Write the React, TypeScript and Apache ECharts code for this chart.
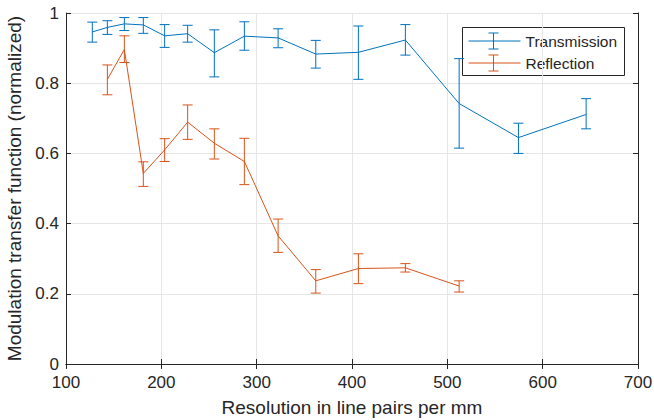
import React, { useEffect, useRef } from "react";
import * as echarts from "echarts";

const transX = [127.6, 143.4, 161.2, 181.1, 203.5, 227.6, 255.6, 287.1, 322.5, 362, 406.7, 456, 512.4, 574.6, 645.6];
const transY = [0.946, 0.959, 0.969, 0.966, 0.935, 0.941, 0.887, 0.934, 0.929, 0.883, 0.888, 0.923, 0.742, 0.645, 0.711];
const transHi = [0.974, 0.978, 0.987, 0.987, 0.967, 0.965, 0.952, 0.975, 0.955, 0.922, 0.963, 0.967, 0.870, 0.686, 0.756];
const transLo = [0.917, 0.939, 0.950, 0.942, 0.902, 0.917, 0.818, 0.894, 0.901, 0.843, 0.811, 0.880, 0.615, 0.600, 0.670];

const reflX = [143.4, 161.2, 181.1, 203.5, 227.6, 255.6, 287.1, 322.5, 362, 406.7, 456, 512.4];
const reflY = [0.811, 0.896, 0.543, 0.610, 0.689, 0.629, 0.577, 0.365, 0.237, 0.272, 0.274, 0.222];
const reflHi = [0.852, 0.935, 0.576, 0.642, 0.738, 0.670, 0.643, 0.413, 0.269, 0.314, 0.286, 0.237];
const reflLo = [0.767, 0.859, 0.506, 0.577, 0.640, 0.584, 0.511, 0.318, 0.202, 0.229, 0.262, 0.205];

const xTicks = [100, 200, 300, 400, 500, 600, 700];
const yTicks = [0, 0.2, 0.4, 0.6, 0.8, 1];

const BLUE = "#0072BD";
const ORANGE = "#D95319";
const FONT = "Liberation Sans, Arial, sans-serif";
const TXT = "#262626";

function errRender(color: string) {
  return (params: any, api: any) => {
    const x = api.value(0);
    const lo = api.coord([x, api.value(1)]);
    const hi = api.coord([x, api.value(2)]);
    const w = 5;
    const style = { stroke: color, lineWidth: 1 };
    return {
      type: "group",
      children: [
        { type: "line", shape: { x1: lo[0], y1: lo[1], x2: hi[0], y2: hi[1] }, style },
        { type: "line", shape: { x1: lo[0] - w, y1: lo[1], x2: lo[0] + w, y2: lo[1] }, style },
        { type: "line", shape: { x1: hi[0] - w, y1: hi[1], x2: hi[0] + w, y2: hi[1] }, style },
      ],
    };
  };
}

export default function App() {
  const ref = useRef<HTMLDivElement>(null);
  useEffect(() => {
    const chart = echarts.init(ref.current!, null, { renderer: "svg" });
    const axisCommon = {
      type: "value" as const,
      axisLine: { show: true, lineStyle: { color: "#262626", width: 1 } },
      axisTick: { show: true, inside: true, length: 5, lineStyle: { color: "#262626" } },
    };
    const option: any = {
      animation: false,
      backgroundColor: "#ffffff",
      grid: { left: 66, right: 16, top: 13, bottom: 56, containLabel: false, outerBoundsMode: "none" },
      xAxis: [
        {
          ...axisCommon,
          min: xTicks[0],
          max: xTicks[xTicks.length - 1],
          interval: 100,
          position: "bottom",
          axisLabel: { color: TXT, fontFamily: FONT, fontSize: 17, margin: 10 },
          splitLine: { show: true, lineStyle: { color: "#e6e6e6", width: 1 } },
          name: "Resolution in line pairs per mm",
          nameLocation: "middle",
          nameGap: 34,
          nameTextStyle: { color: TXT, fontFamily: FONT, fontSize: 19 },
        },
        {
          ...axisCommon,
          min: xTicks[0],
          max: xTicks[xTicks.length - 1],
          interval: 100,
          position: "top",
          axisLabel: { show: false },
          splitLine: { show: false },
        },
      ],
      yAxis: [
        {
          ...axisCommon,
          min: yTicks[0],
          max: yTicks[yTicks.length - 1],
          interval: 0.2,
          position: "left",
          axisLabel: { color: TXT, fontFamily: FONT, fontSize: 17, margin: 7 },
          splitLine: { show: true, lineStyle: { color: "#e6e6e6", width: 1 } },
          name: "Modulation transfer function (normalized)",
          nameLocation: "middle",
          nameGap: 41,
          nameTextStyle: { color: TXT, fontFamily: FONT, fontSize: 19 },
        },
        {
          ...axisCommon,
          min: yTicks[0],
          max: yTicks[yTicks.length - 1],
          interval: 0.2,
          position: "right",
          axisLabel: { show: false },
          splitLine: { show: false },
        },
      ],
      series: [
        {
          name: "Transmission",
          type: "line",
          data: transX.map((x, i) => [x, transY[i]]),
          showSymbol: false,
          lineStyle: { color: BLUE, width: 1 },
          itemStyle: { color: BLUE },
          z: 3,
        },
        {
          type: "custom",
          renderItem: errRender(BLUE),
          data: transX.map((x, i) => [x, transLo[i], transHi[i]]),
          encode: { x: 0, y: [1, 2] },
          z: 3,
        },
        {
          name: "Reflection",
          type: "line",
          data: reflX.map((x, i) => [x, reflY[i]]),
          showSymbol: false,
          lineStyle: { color: ORANGE, width: 1 },
          itemStyle: { color: ORANGE },
          z: 2,
        },
        {
          type: "custom",
          renderItem: errRender(ORANGE),
          data: reflX.map((x, i) => [x, reflLo[i], reflHi[i]]),
          encode: { x: 0, y: [1, 2] },
          z: 2,
        },
      ],
      graphic: [
        {
          type: "group",
          left: 462,
          top: 27,
          z: 10,
          children: [
            { type: "rect", shape: { x: 0, y: 0, width: 162, height: 48 }, style: { fill: "#ffffff", stroke: "#262626", lineWidth: 1 } },
            { type: "line", shape: { x1: 6, y1: 13.5, x2: 58, y2: 13.5 }, style: { stroke: BLUE, lineWidth: 1 } },
            { type: "line", shape: { x1: 31, y1: 5.5, x2: 31, y2: 21.5 }, style: { stroke: BLUE, lineWidth: 1 } },
            { type: "line", shape: { x1: 26, y1: 5.5, x2: 36, y2: 5.5 }, style: { stroke: BLUE, lineWidth: 1 } },
            { type: "line", shape: { x1: 26, y1: 21.5, x2: 36, y2: 21.5 }, style: { stroke: BLUE, lineWidth: 1 } },
            { type: "text", x: 63, y: 14, style: { text: "Transmission", fill: TXT, font: `15.5px ${FONT}`, verticalAlign: "middle" } },
            { type: "line", shape: { x1: 6, y1: 35.5, x2: 58, y2: 35.5 }, style: { stroke: ORANGE, lineWidth: 1 } },
            { type: "line", shape: { x1: 31, y1: 27.5, x2: 31, y2: 43.5 }, style: { stroke: ORANGE, lineWidth: 1 } },
            { type: "line", shape: { x1: 26, y1: 27.5, x2: 36, y2: 27.5 }, style: { stroke: ORANGE, lineWidth: 1 } },
            { type: "line", shape: { x1: 26, y1: 43.5, x2: 36, y2: 43.5 }, style: { stroke: ORANGE, lineWidth: 1 } },
            { type: "text", x: 63, y: 36, style: { text: "Reflection", fill: TXT, font: `15.5px ${FONT}`, verticalAlign: "middle" } },
          ],
        },
      ],
    };
    chart.setOption(option);
    return () => chart.dispose();
  }, []);
  return <div ref={ref} style={{ width: 654, height: 420, position: "absolute", left: 0, top: 0 }} />;
}
